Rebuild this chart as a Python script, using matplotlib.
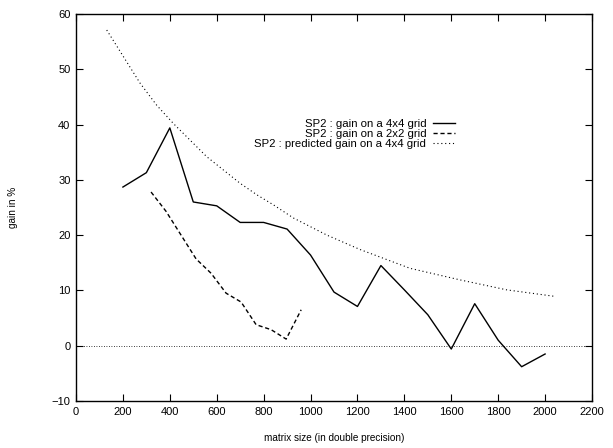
import matplotlib
matplotlib.use("Agg")
import matplotlib.pyplot as plt

plt.rcParams['font.family'] = ['Liberation Sans', 'DejaVu Sans']

# --- data ---
size_4x4 = [200, 300, 400, 500, 600, 700, 800, 900, 1000, 1100,
            1200, 1300, 1400, 1500, 1600, 1700, 1800, 1900, 2000]
gain_4x4 = [28.7, 31.3, 39.4, 26.0, 25.3, 22.3, 22.3, 21.1, 16.4, 9.7,
            7.1, 14.5, 10.1, 5.6, -0.6, 7.6, 1.0, -3.8, -1.5]

size_2x2 = [320, 384, 448, 512, 576, 640, 704, 768, 832, 896, 960]
gain_2x2 = [27.8, 24.3, 20.0, 15.7, 13.1, 9.5, 7.9, 3.8, 2.9, 1.2, 6.5]

size_pred = [131, 202, 273, 344, 415, 486, 557, 628, 699, 771, 841, 927,
             1070, 1211, 1424, 1638, 1837, 2046]
gain_pred = [57.1, 52.3, 47.5, 43.5, 40.2, 37.2, 34.2, 31.8, 29.4, 27.3,
             25.5, 23.1, 20.0, 17.4, 14.0, 11.9, 10.1, 8.9]

labels = ["SP2 : gain on a 4x4 grid",
          "SP2 : gain on a 2x2 grid",
          "SP2 : predicted gain on a 4x4 grid"]

fig = plt.figure(figsize=(6.13, 4.48), dpi=100)
ax = fig.add_axes([76 / 613, 47 / 448, 516 / 613, 387 / 448])

ax.axhline(0, color='black', linestyle=(0, (1, 2)), linewidth=0.6)

l1, = ax.plot(size_4x4, gain_4x4, color='black', linewidth=1.0)
l2, = ax.plot(size_2x2, gain_2x2, color='black', linewidth=1.0,
              linestyle=(0, (3, 2)))
l3, = ax.plot(size_pred, gain_pred, color='black', linewidth=0.8,
              linestyle=(0, (1, 2.5)))

ax.set_xlim(0, 2200)
ax.set_ylim(-10, 60)
ax.set_xticks(range(0, 2201, 200))
ax.set_yticks(range(-10, 61, 10))
ax.tick_params(direction='in', top=True, right=True, length=5, width=0.8,
               labelsize=8, pad=4)
for sp in ax.spines.values():
    sp.set_linewidth(1.0)

ax.set_xlabel("matrix size (in double precision)", fontsize=7.2, labelpad=12)
ax.set_ylabel("gain in %", fontsize=7.2, labelpad=24)

ax.legend([l1, l2, l3], labels, loc='upper right', bbox_to_anchor=(0.745, 0.743),
          frameon=False, markerfirst=False, fontsize=8.2, handlelength=1.9,
          handletextpad=0.6, labelspacing=0.0, borderpad=0)

fig.savefig("out.png", dpi=100)
